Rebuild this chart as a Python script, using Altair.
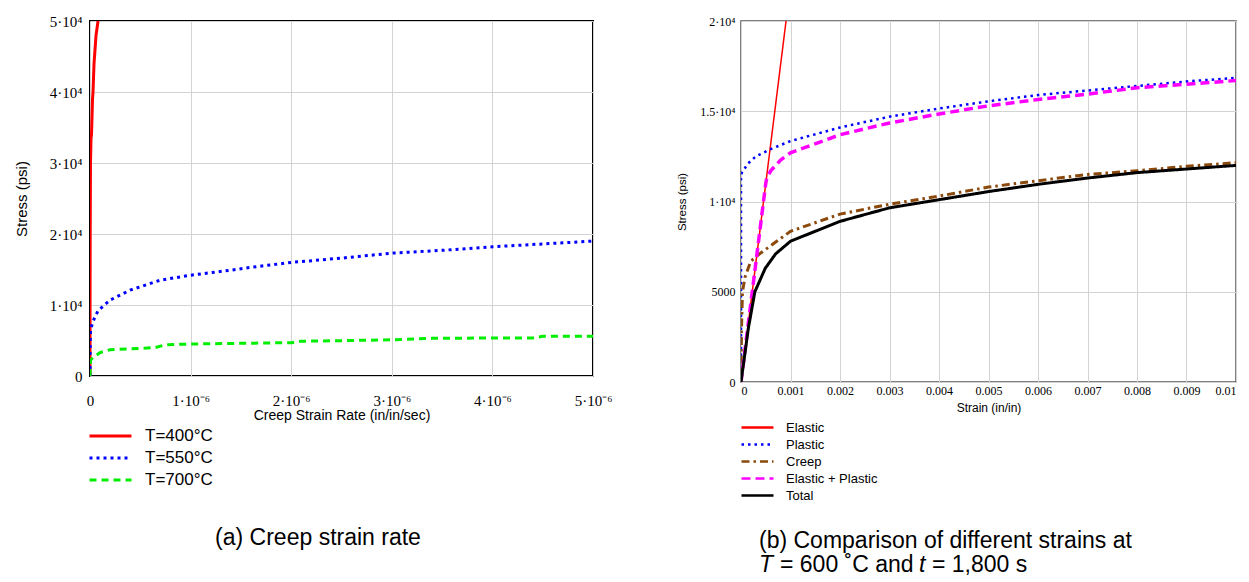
import altair as alt
import pandas as pd

# ---------------- (a) Creep strain rate ----------------
series_a = ["T=400°C", "T=550°C", "T=700°C"]
colors_a = ["#ff0000", "#0000ff", "#00ee00"]
dashes_a = [[1, 0], [3, 4], [7, 5]]

t400_x = [0, 0.5e-9, 2e-9, 5e-9, 1.0e-8, 1.5e-8, 2.5e-8, 3.0e-8, 4.0e-8, 5.0e-8, 6.0e-8, 8.0e-8]
t400_y = [0, 10000, 20000, 30000, 33500, 34000, 39000, 40000, 44000, 46000, 48000, 50000]

t550_x = [0, 0.002e-6, 0.005e-6, 0.03e-6, 0.08e-6, 0.2e-6, 0.4e-6, 0.7e-6, 1.0e-6, 1.4e-6, 1.6e-6,
          2.0e-6, 2.5e-6, 3.0e-6, 3.5e-6, 4.0e-6, 4.5e-6, 5.0e-6]
t550_y = [0, 4500, 6500, 7700, 9200, 10700, 12100, 13500, 14200, 14900, 15300,
          16000, 16600, 17300, 17700, 18200, 18600, 19000]

t700_x = [0, 0.002e-6, 0.005e-6, 0.03e-6, 0.1e-6, 0.2e-6, 0.5e-6, 0.65e-6, 0.75e-6, 1.0e-6, 1.5e-6,
          2.0e-6, 2.1e-6, 2.6e-6, 3.0e-6, 3.4e-6, 4.0e-6, 4.4e-6, 4.5e-6, 5.0e-6]
t700_y = [0, 1500, 2200, 2600, 3300, 3700, 3900, 4000, 4400, 4500, 4600,
          4700, 4900, 5000, 5100, 5300, 5350, 5350, 5600, 5600]

x_ticks_a = [0, 1e-6, 2e-6, 3e-6, 4e-6, 5e-6]
y_ticks_a = [0, 10000, 20000, 30000, 40000, 50000]

# ---------------- (b) Comparison of strains ----------------
series_b = ["Elastic", "Plastic", "Creep", "Elastic + Plastic", "Total"]
colors_b = ["#ff0000", "#0000ff", "#8b4a0c", "#ff00ff", "#000000"]
dashes_b = [[1, 0], [2.5, 4], [8, 4, 2.5, 4], [9, 5], [1, 0]]
widths_b = [1.5, 2.5, 3, 3.5, 3]

elastic_x = [0, 0.00091]
elastic_y = [0, 20000]

plastic_x = [0, 0, 0.00002, 0.00014, 0.0003, 0.0006, 0.001, 0.002, 0.003, 0.004, 0.005,
             0.006, 0.007, 0.008, 0.009, 0.01]
plastic_y = [0, 11500, 11600, 12100, 12500, 12900, 13350, 14100, 14700, 15150, 15550,
             15900, 16150, 16400, 16650, 16850]

creep_x = [0, 0.00001, 0.00003, 0.00008, 0.0002, 0.0004, 0.001, 0.002, 0.003, 0.004, 0.005,
           0.006, 0.007, 0.008, 0.009, 0.01]
creep_y = [0, 3000, 5000, 5800, 6700, 7150, 8350, 9300, 9850, 10300, 10800,
           11150, 11500, 11700, 11950, 12150]

elpl_x = [0, 0.00025, 0.0005, 0.00052, 0.0006, 0.0008, 0.001, 0.002, 0.003, 0.004, 0.005,
          0.006, 0.007, 0.008, 0.009, 0.01]
elpl_y = [0, 5500, 11000, 11300, 11700, 12300, 12700, 13700, 14350, 14850, 15300,
          15650, 15950, 16300, 16500, 16700]

total_x = [0, 0.00015, 0.00028, 0.00049, 0.0007, 0.001, 0.002, 0.003, 0.004, 0.005,
           0.006, 0.007, 0.008, 0.009, 0.01]
total_y = [0, 3000, 5000, 6300, 7100, 7800, 8900, 9650, 10100, 10550,
           10950, 11300, 11600, 11800, 12000]

x_ticks_b = [0, 0.001, 0.002, 0.003, 0.004, 0.005, 0.006, 0.007, 0.008, 0.009, 0.01]
y_ticks_b = [0, 5000, 10000, 15000, 20000]

caption_a = "(a) Creep strain rate"
caption_b1 = "(b) Comparison of different strains at"
caption_b2_parts = ["T", "= 600 ˚C and", "t", "= 1,800 s"]


def make_df(field, names, xs_list, ys_list):
    rows = []
    for name, xs, ys in zip(names, xs_list, ys_list):
        for i, (xv, yv) in enumerate(zip(xs, ys)):
            rows.append({field: name, "x": xv, "y": yv, "idx": i})
    return pd.DataFrame(rows)


df_a = make_df("temp", series_a, [t400_x, t550_x, t700_x], [t400_y, t550_y, t700_y])
df_b = make_df("strain", series_b, [elastic_x, plastic_x, creep_x, elpl_x, total_x],
               [elastic_y, plastic_y, creep_y, elpl_y, total_y])

SERIF = "Liberation Serif"
SANS = "Liberation Sans"

W_A, H_A = 503, 355
W_B, H_B = 495, 361

# ---------- chart (a) ----------
legend_a = alt.Legend(title=None, orient="none", legendX=-2, legendY=404,
                      symbolType="stroke", symbolSize=1764, symbolStrokeWidth=3,
                      labelFont=SANS, labelFontSize=17, labelColor="black",
                      clipHeight=22, rowPadding=0, padding=0, labelOffset=12,
                      symbolOffset=0, labelLimit=300)

x_a = alt.X("x:Q", scale=alt.Scale(domain=[0, 5e-6], nice=False, zero=False),
            axis=alt.Axis(values=x_ticks_a, grid=True, gridColor="#d3d3d3", ticks=False, domain=False,
                          labelExpr="datum.value == 0 ? '0' : round(datum.value / 1e-6) + '·10⁻⁶'",
                          labelFont=SERIF, labelFontSize=15, labelColor="black", labelPadding=17,
                          labelOverlap=False, labelFlush=False,
                          title="Creep Strain Rate (in/in/sec)", titleFont=SANS, titleFontSize=14,
                          titleFontWeight="normal", titleColor="black", titlePadding=0))
y_a = alt.Y("y:Q", scale=alt.Scale(domain=[0, 50000], nice=False),
            axis=alt.Axis(values=y_ticks_a, grid=True, gridColor="#d3d3d3", ticks=False, domain=False,
                          labelExpr="datum.value == 0 ? '0' : round(datum.value / 1e4) + '·10⁴'",
                          labelFont=SERIF, labelFontSize=15, labelColor="black", labelPadding=8,
                          labelOverlap=False,
                          title="Stress (psi)", titleFont=SANS, titleFontSize=15,
                          titleFontWeight="normal", titleColor="black", titlePadding=20))

lines_a = alt.Chart(df_a).mark_line(strokeWidth=3, clip=True).encode(
    x=x_a, y=y_a,
    color=alt.Color("temp:N", scale=alt.Scale(domain=series_a, range=colors_a), legend=legend_a),
    strokeDash=alt.StrokeDash("temp:N", scale=alt.Scale(domain=series_a, range=dashes_a), legend=legend_a),
    order=alt.Order("idx:Q"),
)

cap_a = alt.Chart(pd.DataFrame({"t": [caption_a]})).mark_text(
    font=SANS, fontSize=23, align="center", baseline="alphabetic", color="black"
).encode(x=alt.value(228), y=alt.value(524), text="t:N")

chart_a = alt.layer(lines_a, cap_a).properties(
    width=W_A, height=H_A, view=alt.ViewBackground(stroke="black", strokeWidth=2))

# ---------- chart (b) ----------
legend_b = alt.Legend(title=None, orient="none", legendX=-1, legendY=398,
                      symbolType="stroke", symbolSize=1024, symbolStrokeWidth=2.5,
                      labelFont=SANS, labelFontSize=13, labelColor="black",
                      clipHeight=17, rowPadding=0, padding=0, labelOffset=11,
                      symbolOffset=0, labelLimit=300)

x_b = alt.X("x:Q", scale=alt.Scale(domain=[0, 0.01], nice=False, zero=False),
            axis=alt.Axis(values=x_ticks_b, grid=True, gridColor="#d3d3d3", ticks=False, domain=False,
                          labelExpr="format(datum.value, '.3~f')",
                          labelFont=SERIF, labelFontSize=12, labelColor="black", labelPadding=3,
                          labelOverlap=False, labelFlush=True,
                          title="Strain (in/in)", titleFont=SANS, titleFontSize=12,
                          titleFontWeight="normal", titleColor="black", titlePadding=6))
y_b = alt.Y("y:Q", scale=alt.Scale(domain=[0, 20000], nice=False),
            axis=alt.Axis(values=y_ticks_b, grid=True, gridColor="#d3d3d3", ticks=False, domain=False,
                          labelExpr="datum.value < 10000 ? format(datum.value, 'd') : (datum.value / 1e4) + '·10⁴'",
                          labelFont=SERIF, labelFontSize=12, labelColor="black", labelPadding=6,
                          labelOverlap=False,
                          title="Stress (psi)", titleFont=SANS, titleFontSize=11.5,
                          titleFontWeight="normal", titleColor="black", titlePadding=12))

layers_b = []
for name, w in zip(series_b, widths_b):
    layers_b.append(
        alt.Chart(df_b).transform_filter(alt.datum.strain == name).mark_line(strokeWidth=w, clip=True).encode(
            x=x_b, y=y_b,
            color=alt.Color("strain:N", scale=alt.Scale(domain=series_b, range=colors_b), legend=legend_b),
            strokeDash=alt.StrokeDash("strain:N", scale=alt.Scale(domain=series_b, range=dashes_b), legend=legend_b),
            order=alt.Order("idx:Q"),
        )
    )

cap_b1 = alt.Chart(pd.DataFrame({"t": [caption_b1]})).mark_text(
    font=SANS, fontSize=23, align="left", baseline="alphabetic", color="black"
).encode(x=alt.value(18), y=alt.value(527), text="t:N")

cap_parts = []
part_x = [18, 39, 178, 191]
part_style = ["italic", "normal", "italic", "normal"]
for txt, px, st in zip(caption_b2_parts, part_x, part_style):
    cap_parts.append(alt.Chart(pd.DataFrame({"t": [txt]})).mark_text(
        font=SANS, fontSize=23, align="left", baseline="alphabetic", color="black", fontStyle=st
    ).encode(x=alt.value(px), y=alt.value(551), text="t:N"))

chart_b = alt.layer(*layers_b, cap_b1, *cap_parts).properties(
    width=W_B, height=H_B, view=alt.ViewBackground(stroke="#555555", strokeWidth=1.5))

chart = alt.hconcat(chart_a, chart_b, spacing=63).resolve_scale(
    color="independent", strokeDash="independent"
).resolve_legend(color="independent", strokeDash="independent").properties(
    padding={"left": 5, "top": 5, "right": 0, "bottom": 0}
).configure(background="white")

chart.save("out.html", embed_options={"renderer": "svg", "actions": False})
